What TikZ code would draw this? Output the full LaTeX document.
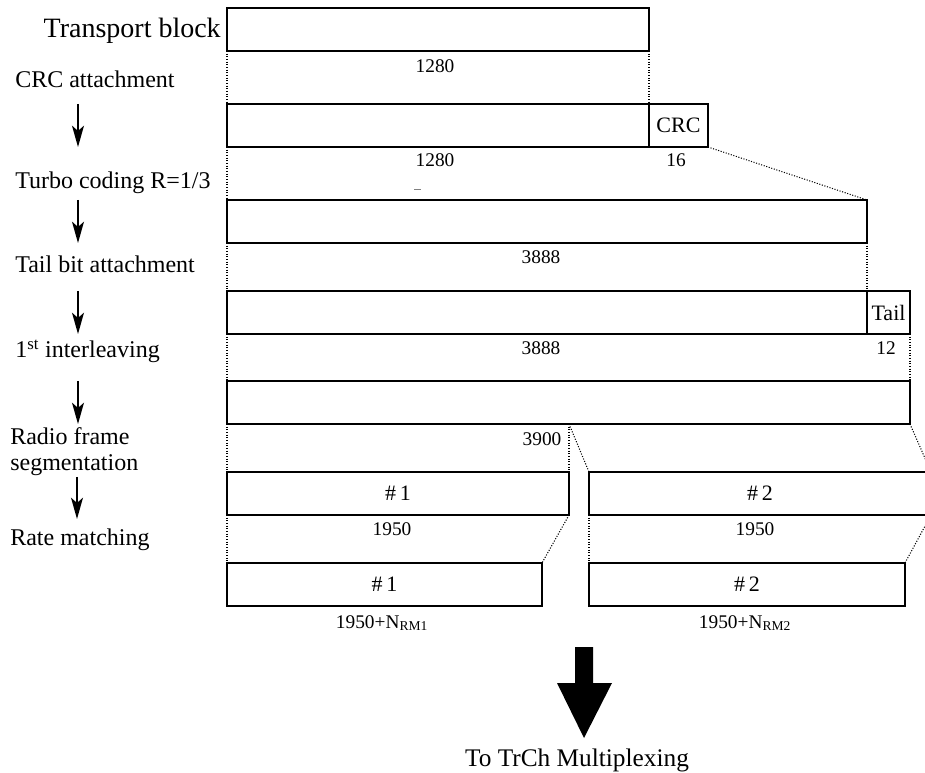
\documentclass[tikz,border=0pt]{standalone}
\usepackage{fontspec}
\setmainfont{Liberation Serif}
\usetikzlibrary{arrows.meta}

\begin{document}
\begin{tikzpicture}[x=0.75pt,y=0.75pt,yscale=-1,
  blk/.style={draw, line width=1.3pt, rectangle, anchor=north west, inner sep=0pt, outer sep=0pt, minimum height=32.25pt, font=\fontsize{16.5}{18}\selectfont},
  guide/.style={line width=0.8pt, dash pattern=on 0.8pt off 1.2pt},
  flow/.style={line width=1.2pt, -{Stealth[length=16pt,width=9pt,inset=4pt]}},
  lbl/.style={anchor=base west, inner sep=0pt, font=\fontsize{18}{20}\selectfont},
  num/.style={anchor=base, inner sep=0pt, font=\fontsize{14.5}{17}\selectfont}]
\useasboundingbox (0,0) rectangle (925,773);

%Shape: Rectangle [id:tb]
\node[blk, minimum width=316.5pt] (tb) at (227,8) {};
%Shape: Rectangle [id:crcData]
\node[blk, minimum width=316.5pt] (crcData) at (227,104) {};
\node[blk, minimum width=44.25pt] (crc) at (649,104) {CRC};
%Shape: Rectangle [id:coded]
\node[blk, minimum width=480pt] (coded) at (227,200) {};
%Shape: Rectangle [id:tailData]
\node[blk, minimum width=480pt] (tailData) at (227,291) {};
\node[blk, minimum width=32.25pt] (tail) at (867,291) {Tail};
%Shape: Rectangle [id:intl]
\node[blk, minimum width=512.25pt] (intl) at (227,381) {};
%Shape: Rectangle [id:seg1]
\node[blk, minimum width=256.5pt] (seg1) at (227,472) {\#\,1};
\node[blk, minimum width=256.5pt] (seg2) at (589,472) {\#\,2};
%Shape: Rectangle [id:rm1]
\node[blk, minimum width=236.25pt] (rm1) at (227,563) {\#\,1};
\node[blk, minimum width=237pt] (rm2) at (589,563) {\#\,2};

%Straight Lines [id:guides]
\draw[guide] (tb.south west) -- (crcData.north west);
\draw[guide] (tb.south east) -- (crcData.north east);
\draw[guide] (crcData.south west) -- (coded.north west);
\draw[guide] (crc.south east) -- (coded.north east);
\draw[guide] (coded.south west) -- (tailData.north west);
\draw[guide] (coded.south east) -- (tailData.north east);
\draw[guide] (tailData.south west) -- (intl.north west);
\draw[guide] (tail.south east) -- (intl.north east);
\coordinate (half) at (569,424);
\draw[guide] (intl.south west) -- (seg1.north west);
\draw[guide] (half) -- (seg1.north east);
\draw[guide] (half) -- (seg2.north west);
\draw[guide] (intl.south east) -- (seg2.north east);
\draw[guide] (seg1.south west) -- (rm1.north west);
\draw[guide] (seg1.south east) -- (rm1.north east);
\draw[guide] (seg2.south west) -- (rm2.north west);
\draw[guide] (seg2.south east) -- (rm2.north east);

%Straight Lines [id:flow arrows]
\coordinate (ax) at (78,0);
\draw[flow] (ax |- crcData.north) -- (ax |- crcData.south);
\draw[flow] (ax |- coded.north) -- (ax |- coded.south);
\draw[flow] (ax |- tailData.north) -- (ax |- tailData.south);
\draw[flow] (ax |- intl.north) -- (ax |- intl.south);
\draw[flow] (77,477) -- (77,519);

% Text Node
\node[anchor=base east, inner sep=0pt, font=\fontsize{21}{24}\selectfont] (tbLbl) at (221,38) {Transport block};
\node[lbl] (crcLbl) at (15,88) {CRC attachment};
\node[lbl] (turboLbl) at (15,189) {Turbo coding R=1/3};
\node[lbl] (tailLbl) at (15,273) {Tail bit attachment};
\node[lbl] (intlLbl) at (15,358) {1\textsuperscript{st} interleaving};
\node[lbl] (segLbl) at (10,445) {Radio frame};
\node[lbl] (segLbl2) at (10,470) {segmentation};
\node[lbl] (rmLbl) at (10,545) {Rate matching};

% Text Node
\node[num] (n1) at (435,73) {1280};
\node[num] (n2) at (435,167) {1280};
\node[num] (n3) at (676,167) {16};
\node[num] (n4) at (541,264) {3888};
\node[num] (n5) at (541,355) {3888};
\node[num] (n6) at (886,355) {12};
\node[num] (n7) at (542,446) {3900};
\node[num] (n8) at (392,536) {1950};
\node[num] (n9) at (755,536) {1950};
\node[num] (n10) at (382,628) {1950+N\textsubscript{RM1}};
\node[num] (n11) at (745,628) {1950+N\textsubscript{RM2}};
\draw[gray] (414,189) -- (421,189);

%Shape: Down Arrow [id:bigArrow]
\fill (575,647) -- (593,647) -- (593,683) -- (612,683) -- (584,738) -- (557,683) -- (575,683) -- cycle;
% Text Node
\node[anchor=base, inner sep=0pt, font=\fontsize{19}{21}\selectfont] (outLbl) at (577,766) {To TrCh Multiplexing};

\end{tikzpicture}
\end{document}
